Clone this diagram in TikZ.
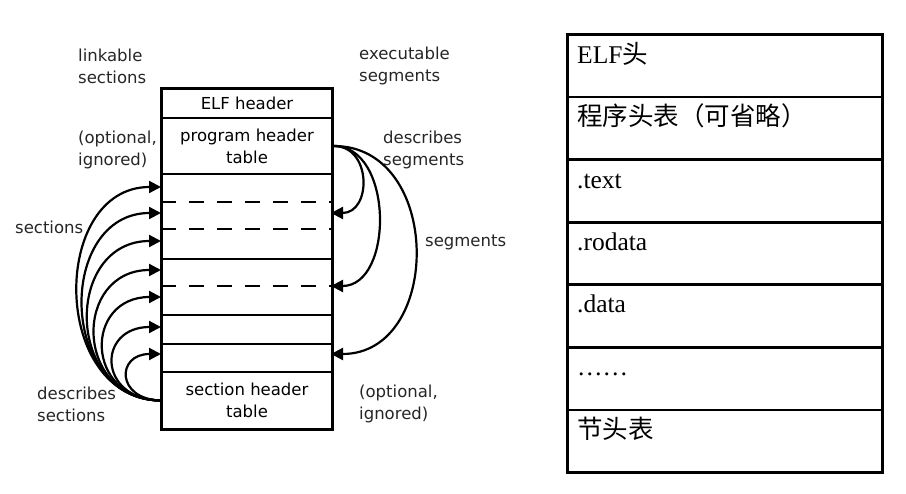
\documentclass[tikz,border=0pt]{standalone}
\usepackage{fontspec}
\setmainfont{Liberation Serif}
\newfontfamily\vera{DejaVu Sans}
\newfontfamily\cjk{Noto Sans CJK SC}
\usetikzlibrary{arrows.meta}
\tikzset{
  row/.style={draw, line width=2pt, rectangle, anchor=north west, inner sep=0pt, minimum width=170pt, align=center, font=\vera\fontsize{16.5}{22}\selectfont},
  lbl/.style={inner sep=0pt, align=left, anchor=west, text=black!85, font=\vera\fontsize{16.5}{22}\selectfont},
  arr/.style={line width=2.2pt, -{Triangle[length=12pt,width=12pt]}},
  dsh/.style={line width=2pt, dash pattern=on 15pt off 13pt},
  trow/.style={draw, line width=2.8pt, rectangle, anchor=north west, inner sep=0pt, minimum width=315pt, minimum height=62.6pt},
  ttxt/.style={inner sep=0pt, anchor=base west, font=\fontsize{25.5}{30}\selectfont}
}
\begin{document}
\begin{tikzpicture}[x=1pt,y=-1pt]
\useasboundingbox (0,0) rectangle (906,494);
\fill[white] (0,0) rectangle (906,494);
% left structure
\node[row, minimum height=29pt] (elfh) at (161,88) {ELF header};
\node[row, minimum height=56pt] (pht) at (161,117) {program header\\table};
\node[row, minimum height=85pt] (s1) at (161,173) {};
\node[row, minimum height=56pt] (s2) at (161,258) {};
\node[row, minimum height=29pt] (s3) at (161,314) {};
\node[row, minimum height=28pt] (s4) at (161,343) {};
\node[row, minimum height=57pt] (sht) at (161,371) {section header\\table};
\draw[line width=2.6pt] (elfh.north west) rectangle (sht.south east);
\draw[dsh] (161,202) -- (331,202);
\draw[dsh] (161,229) -- (331,229);
\draw[dsh] (161,286) -- (331,286);
% labels
\node[lbl] (lk) at (78,66) {linkable\\sections};
\node[lbl] (oi1) at (78,150) {(optional,\\ignored)};
\node[lbl] (sec) at (15,227) {sections};
\node[lbl] (ds) at (37,404) {describes\\sections};
\node[lbl] (ex) at (359,66) {executable\\segments};
\node[lbl] (dg) at (383,150) {describes\\segments};
\node[lbl] (sg) at (425,242) {segments};
\node[lbl] (oi2) at (359,404) {(optional,\\ignored)};
% left arrow targets
\coordinate (L1) at (161,187);
\coordinate (L2) at (161,213);
\coordinate (L3) at (161,241);
\coordinate (L4) at (161,270);
\coordinate (L5) at (161,297);
\coordinate (L6) at (161,327);
\coordinate (L7) at (161,354);
\draw[arr] (sht.west) .. controls (50,399.5) and (50,187) .. (L1);
\draw[arr] (sht.west) .. controls (57,399.5) and (57,213) .. (L2);
\draw[arr] (sht.west) .. controls (64,399.5) and (64,241) .. (L3);
\draw[arr] (sht.west) .. controls (73,399.5) and (73,270) .. (L4);
\draw[arr] (sht.west) .. controls (84,399.5) and (84,297) .. (L5);
\draw[arr] (sht.west) .. controls (97,399.5) and (97,327) .. (L6);
\draw[arr] (sht.west) .. controls (116,399.5) and (116,354) .. (L7);
% right arrow targets
\coordinate (R1) at (331,213);
\coordinate (R2) at (331,286);
\coordinate (R3) at (331,354);
\draw[arr] (pht.east) .. controls (372,145) and (372,213) .. (R1);
\draw[arr] (pht.east) .. controls (394,145) and (394,286) .. (R2);
\draw[arr] (pht.east) .. controls (443,145) and (443,354) .. (R3);
% right table
\node[trow] (r1) at (566,33) {};
\node[trow] (r2) at (566,95.6) {};
\node[trow] (r3) at (566,158.2) {};
\node[trow] (r4) at (566,220.8) {};
\node[trow] (r5) at (566,283.4) {};
\node[trow] (r6) at (566,346) {};
\node[trow] (r7) at (566,408.6) {};
\node[ttxt] (t1) at (577,64) {ELF{\cjk 头}};
\node[ttxt] (t2) at (577,126) {\cjk 程序头表（可省略）};
\node[ttxt] (t3) at (577,189) {.text};
\node[ttxt] (t4) at (577,251) {.rodata};
\node[ttxt] (t5) at (577,313) {.data};
\node[ttxt] (t6) at (577,376) {……};
\node[ttxt] (t7) at (577,439) {\cjk 节头表};
\end{tikzpicture}
\end{document}
